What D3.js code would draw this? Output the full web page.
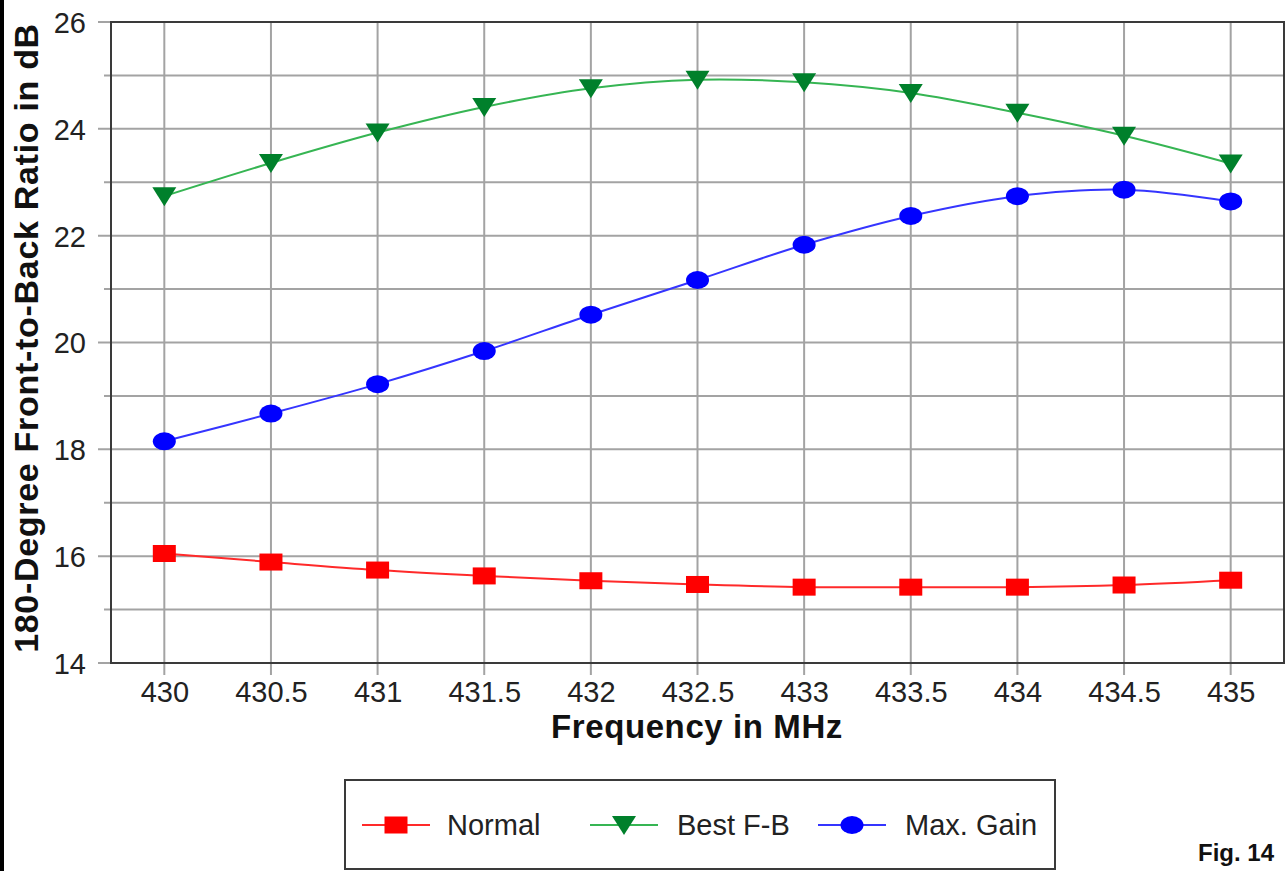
<!DOCTYPE html>
<html><head><meta charset="utf-8">
<script src="https://cdn.jsdelivr.net/npm/d3@7/dist/d3.min.js"></script>
<style>
html,body{margin:0;padding:0;background:#fff;}
svg{display:block;font-family:"Liberation Sans",Arial,sans-serif;}
</style></head>
<body><svg id="chart" width="1287" height="871"></svg>
<script>
const freqs = [430, 430.5, 431, 431.5, 432, 432.5, 433, 433.5, 434, 434.5, 435];
const normal = [16.05, 15.89, 15.74, 15.63, 15.54, 15.47, 15.42, 15.42, 15.42, 15.46, 15.55];
const bestFB = [22.74, 23.36, 23.93, 24.41, 24.76, 24.92, 24.87, 24.67, 24.30, 23.87, 23.35];
const maxGain = [18.15, 18.67, 19.22, 19.84, 20.52, 21.17, 21.83, 22.37, 22.74, 22.86, 22.64];
const xTickLabels = ["430","430.5","431","431.5","432","432.5","433","433.5","434","434.5","435"];
const yTickLabels = ["14","16","18","20","22","24","26"];
const seriesNames = ["Normal","Best F-B","Max. Gain"];

const svg = d3.select("#chart");
const L = 111, R = 1284, T = 22, B = 663;
const x = d3.scaleLinear().domain([429.75, 435.25]).range([L, R]);
const y = d3.scaleLinear().domain([14, 26]).range([B, T]);
const gridCol = "#a3a3a3", axisCol = "#3a3a3a";

// left black edge of image
svg.append("rect").attr("x",0).attr("y",0).attr("width",4).attr("height",871).attr("fill","#000");

// horizontal grid (every 1 dB) with tick extensions
const g = svg.append("g");
d3.range(14, 27, 1).forEach(v => {
  const major = v % 2 === 0;
  g.append("line").attr("x1", major ? 98 : 104).attr("x2", R)
    .attr("y1", y(v)).attr("y2", y(v)).attr("stroke", gridCol).attr("stroke-width", 2);
});
// vertical grid
freqs.forEach(f => {
  g.append("line").attr("x1", x(f)).attr("x2", x(f)).attr("y1", T).attr("y2", B + 12)
    .attr("stroke", gridCol).attr("stroke-width", 2);
});
// frame
svg.append("rect").attr("x", L).attr("y", T).attr("width", R - L).attr("height", B - T)
  .attr("fill", "none").attr("stroke", axisCol).attr("stroke-width", 2);

// axes labels using d3 axes (no lines)
const yAxis = d3.axisLeft(y).tickValues(yTickLabels.map(Number)).tickSize(0).tickPadding(0)
  .tickFormat((d,i)=>yTickLabels[i]);
const ya = svg.append("g").attr("transform", `translate(86,0)`).call(yAxis);
ya.select(".domain").remove();
ya.selectAll("text").attr("font-size", 29).attr("fill", "#222")
  .attr("font-family", "Liberation Sans, Arial, sans-serif").attr("dy", "0.36em");

const xAxis = d3.axisBottom(x).tickValues(freqs).tickSize(0).tickPadding(0)
  .tickFormat((d,i)=>xTickLabels[i]);
const xa = svg.append("g").attr("transform", `translate(0,702)`).call(xAxis);
xa.select(".domain").remove();
xa.selectAll("text").attr("font-size", 29).attr("fill", "#222")
  .attr("font-family", "Liberation Sans, Arial, sans-serif").attr("dy", "0");

// titles
svg.append("text").attr("x", 697).attr("y", 738).attr("text-anchor", "middle")
  .attr("font-size", 33).attr("font-weight", "bold").attr("letter-spacing", 0.6).attr("fill", "#111").text("Frequency in MHz");
svg.append("text").attr("transform", "translate(38,338) rotate(-90)").attr("text-anchor", "middle")
  .attr("font-size", 34).attr("font-weight", "bold").attr("letter-spacing", 0.7).attr("fill", "#111")
  .text("180-Degree Front-to-Back Ratio in dB");

// series
const series = [
  {name: seriesNames[0], vals: normal, line: "#ff2a2a", fill: "#ff0000", shape: "square"},
  {name: seriesNames[1], vals: bestFB, line: "#36b553", fill: "#00802b", shape: "tri"},
  {name: seriesNames[2], vals: maxGain, line: "#3535ff", fill: "#0000ff", shape: "circle"}
];
const lineGen = d3.line().x(d => x(d[0])).y(d => y(d[1])).curve(d3.curveCatmullRom.alpha(0.5));

function marker(sel, shape, fill, cx, cy) {
  if (shape === "square") {
    sel.append("rect").attr("x", cx - 11.5).attr("y", cy - 8.5).attr("width", 23).attr("height", 17).attr("fill", fill);
  } else if (shape === "tri") {
    sel.append("path").attr("d", `M${cx-12},${cy-9}L${cx+12},${cy-9}L${cx},${cy+10}Z`).attr("fill", fill);
  } else {
    sel.append("ellipse").attr("cx", cx).attr("cy", cy).attr("rx", 11.5).attr("ry", 9).attr("fill", fill);
  }
}

series.forEach(s => {
  const pts = freqs.map((f, i) => [f, s.vals[i]]);
  svg.append("path").attr("d", lineGen(pts)).attr("fill", "none").attr("stroke", s.line).attr("stroke-width", 2);
  const mg = svg.append("g");
  pts.forEach(p => marker(mg, s.shape, s.fill, x(p[0]), y(p[1])));
});

// legend
svg.append("rect").attr("x", 345).attr("y", 780).attr("width", 710).attr("height", 89)
  .attr("fill", "#fff").attr("stroke", axisCol).attr("stroke-width", 2);
const legendX = [362, 590, 818];
const legendTextX = [447, 677, 905];
series.forEach((s, i) => {
  const ly = 825;
  svg.append("line").attr("x1", legendX[i]).attr("x2", legendX[i] + 68).attr("y1", ly).attr("y2", ly)
    .attr("stroke", s.line).attr("stroke-width", 2);
  marker(svg, s.shape, s.fill, legendX[i] + 34, ly);
  svg.append("text").attr("x", legendTextX[i]).attr("y", ly).attr("dy", "0.36em")
    .attr("font-size", 29).attr("fill", "#222").text(s.name);
});

svg.append("text").attr("x", 1274).attr("y", 861).attr("text-anchor", "end")
  .attr("font-size", 24).attr("font-weight", "bold").attr("fill", "#111").text("Fig. 14");
</script></body></html>
